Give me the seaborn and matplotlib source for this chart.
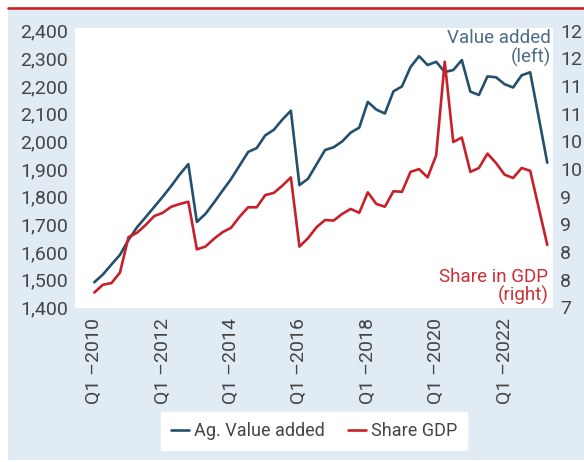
import pandas as pd
import matplotlib.pyplot as plt
import seaborn as sns
from matplotlib.patches import Rectangle
from matplotlib.lines import Line2D

# Datos trimestrales Q1-2010 .. Q2-2023
trimestres = [f"Q{q} –{a}" for a in range(2010, 2024) for q in range(1, 5)][:54]

valor_agregado = [
    1491, 1519, 1555, 1590, 1644, 1690, 1726, 1763, 1800, 1839, 1881, 1918,
    1709, 1738, 1779, 1822, 1864, 1913, 1962, 1976, 2022, 2042, 2079, 2111,
    1842, 1865, 1917, 1969, 1979, 2000, 2032, 2050, 2143, 2115, 2101, 2181,
    2199, 2269, 2308, 2276, 2288, 2251, 2258, 2294, 2180, 2168, 2235, 2232,
    2207, 2195, 2239, 2250, 2087, 1923,
]

participacion_pib = [
    7.27, 7.41, 7.44, 7.63, 8.27, 8.35, 8.49, 8.65, 8.71, 8.82, 8.87, 8.91,
    8.05, 8.10, 8.24, 8.36, 8.44, 8.64, 8.81, 8.81, 9.03, 9.07, 9.20, 9.35,
    8.10, 8.25, 8.45, 8.58, 8.57, 8.69, 8.78, 8.71, 9.08, 8.87, 8.82, 9.10,
    9.09, 9.45, 9.50, 9.35, 9.75, 11.44, 9.99, 10.07, 9.45, 9.52, 9.78, 9.61,
    9.40, 9.34, 9.52, 9.47, 8.80, 8.13,
]

ticks_izq = [1400, 1500, 1600, 1700, 1800, 1900, 2000, 2100, 2200, 2300, 2400]
ticks_der = [7, 7.5, 8, 8.5, 9, 9.5, 10, 10.5, 11, 11.5, 12]
etiquetas_der = ["7", "8", "8", "9", "9", "10", "10", "11", "11", "12", "12"]

azul = "#24506e"
rojo = "#c8202a"
fondo = "#e1ebf4"
gris = "#454545"

sns.set_style("white")
plt.rcParams["font.family"] = ["Roboto", "DejaVu Sans"]

df = pd.DataFrame({"idx": range(len(trimestres)),
                   "Ag. Value added": valor_agregado,
                   "Share GDP": participacion_pib})

fig = plt.figure(figsize=(5.84, 4.62), dpi=100)
fig.patch.set_facecolor("white")

# fondo celeste y linea roja superior
fig.patches.append(Rectangle((8 / 584, 2 / 462), 576 / 584, 450 / 462,
                             transform=fig.transFigure, facecolor=fondo,
                             edgecolor="none", zorder=-10))
fig.lines.append(Line2D([8 / 584, 1], [1 - 8 / 462, 1 - 8 / 462],
                        transform=fig.transFigure, color=rojo, lw=1.9))

ax = fig.add_axes([75 / 584, 1 - 308 / 462, 478 / 584, 280 / 462])
ax.set_facecolor("white")
ax2 = ax.twinx()

sns.lineplot(data=df, x="idx", y="Ag. Value added", ax=ax, color=azul,
             linewidth=1.9, label="Ag. Value added", legend=False)
sns.lineplot(data=df, x="idx", y="Share GDP", ax=ax2, color=rojo,
             linewidth=1.9, label="Share GDP", legend=False)

ax.set_xlim(-2.26, 53.67)
ax.set_ylim(1398, 2410)
ax2.set_ylim(6.99, 12.05)

ax.set_yticks(ticks_izq)
ax.set_yticklabels([f"{v:,.0f}" for v in ticks_izq])
ax2.set_yticks(ticks_der)
ax2.set_yticklabels(etiquetas_der)

pos = list(range(0, len(trimestres), 8))
ax.set_xticks(pos)
ax.set_xticklabels([trimestres[p] for p in pos], rotation=90)

ax.set_xlabel("")
ax.set_ylabel("")
ax2.set_ylabel("")
for a in (ax, ax2):
    for s in a.spines.values():
        s.set_visible(False)
ax.tick_params(axis="y", length=0, pad=5, labelsize=14, labelcolor=gris)
ax.tick_params(axis="x", length=0, pad=7, labelsize=14, labelcolor=gris)
ax2.tick_params(axis="y", length=0, pad=5, labelsize=14, labelcolor=gris)

ax2.text(0.995, 0.995, "Value added\n(left)", transform=ax.transAxes,
         ha="right", va="top", fontsize=13.5, color="#4a6c88", linespacing=1.0)
ax2.text(0.99, 0.01, "Share in GDP\n(right)", transform=ax.transAxes,
         ha="right", va="bottom", fontsize=13.5, color="#cc2f36", linespacing=1.0)

h1, l1 = ax.get_legend_handles_labels()
h2, l2 = ax2.get_legend_handles_labels()
leg = fig.legend(h1 + h2, l1 + l2, loc="center",
                 bbox_to_anchor=(314 / 584, 1 - 431 / 462), ncol=2,
                 fontsize=13, frameon=True, fancybox=False, handlelength=1.0,
                 handletextpad=0.25, columnspacing=1.3, borderpad=0.55)
leg.get_frame().set_facecolor("white")
leg.get_frame().set_edgecolor("white")
leg.get_frame().set_alpha(1)
for t in leg.get_texts():
    t.set_color(gris)

fig.savefig("out.png", dpi=100, facecolor="white")
plt.close()
